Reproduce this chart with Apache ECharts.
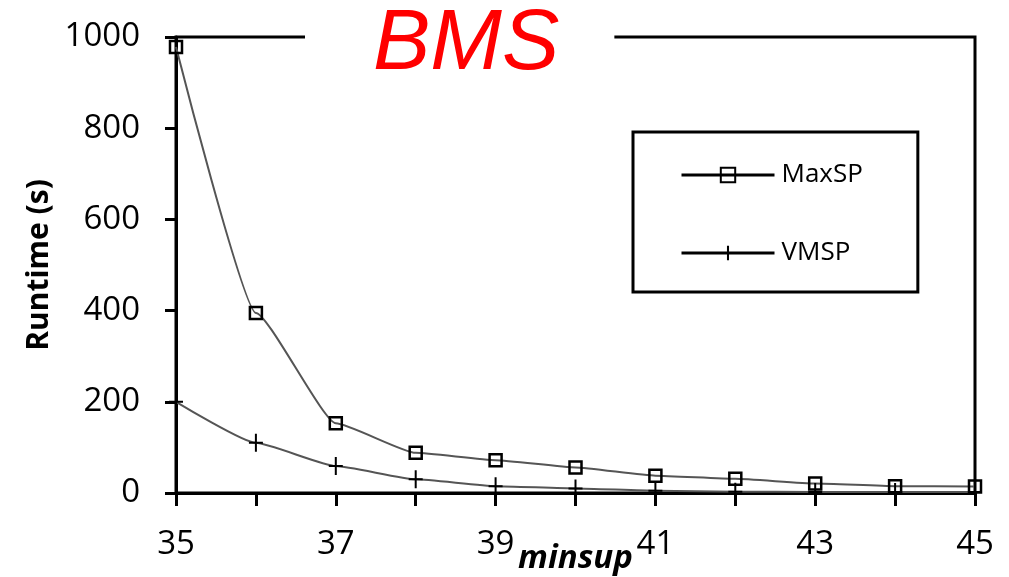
<!DOCTYPE html>
<html>
<head>
<meta charset="utf-8">
<script src="https://cdn.jsdelivr.net/npm/echarts@6/dist/echarts.min.js"></script>
<style>html,body{margin:0;padding:0;background:#fff;}#c{width:1009px;height:577px;}</style>
</head>
<body>
<div id="c"></div>
<script>
const minsup = [35, 36, 37, 38, 39, 40, 41, 42, 43, 44, 45];
const maxSP = [978, 395, 153, 88, 72, 56, 38, 31, 21, 15, 14];
const vmsp = [200, 110, 59, 30, 15, 10, 5, 3, 2, 2, 2];
const xTickLabels = [35, 37, 39, 41, 43, 45];
const yTicks = [0, 200, 400, 600, 800, 1000];

const plusPath = 'path://M6,0H8V8H14V10H8V18H6V10H0V8H6Z';
const font = 'Open Sans';

const chart = echarts.init(document.getElementById('c'));
chart.setOption({
  animation: false,
  backgroundColor: '#fff',
  title: {
    text: 'BMS',
    left: 305, top: 2,
    padding: [0, 55, 0, 68],
    backgroundColor: '#fff',
    textStyle: { color: '#ff0000', fontStyle: 'italic', fontWeight: 'normal', fontSize: 86, fontFamily: 'Liberation Sans', lineHeight: 86 },
    z: 10
  },
  grid: {
    left: 176, right: 34, top: 37, bottom: 84,
    outerBoundsMode: 'none',
    containLabel: false,
    show: true, borderColor: '#000', borderWidth: 3, backgroundColor: 'transparent'
  },
  legend: {
    orient: 'vertical',
    left: 633, top: 132,
    padding: [30, 55, 26, 47],
    itemGap: 52,
    itemWidth: 93, itemHeight: 18,
    borderColor: '#000', borderWidth: 3,
    lineStyle: { color: '#000', width: 3 },
    textStyle: { fontFamily: font, fontSize: 26, color: '#000', lineHeight: 18, padding: [0, 0, 0, 2] },
    data: ['MaxSP', 'VMSP']
  },
  xAxis: {
    type: 'value', min: 35, max: 45, interval: 1,
    name: 'minsup', nameLocation: 'middle', nameGap: 49,
    nameMoveOverlap: false,
    nameTextStyle: { fontFamily: font, fontSize: 33, fontStyle: 'italic', fontWeight: 'bold', color: '#000' },
    axisLine: { lineStyle: { color: '#000', width: 3 } },
    axisTick: { length: 13, lineStyle: { color: '#000', width: 3 } },
    axisLabel: {
      margin: 35, fontFamily: font, fontSize: 33, color: '#000',
      formatter: v => xTickLabels.indexOf(v) >= 0 ? String(v) : ''
    },
    splitLine: { show: false }
  },
  yAxis: {
    type: 'value', min: yTicks[0], max: yTicks[yTicks.length - 1], interval: 200,
    name: 'Runtime (s)', nameLocation: 'middle', nameGap: 122, nameRotate: 90,
    nameMoveOverlap: false,
    nameTextStyle: { fontFamily: font, fontSize: 30, fontWeight: 'bold', color: '#000' },
    axisLine: { show: true, lineStyle: { color: '#000', width: 3 } },
    axisTick: { show: true, length: 11, lineStyle: { color: '#000', width: 3 } },
    axisLabel: { margin: 36, fontFamily: font, fontSize: 33, color: '#000', formatter: v => String(v) },
    splitLine: { show: false }
  },
  series: [
    {
      name: 'MaxSP', type: 'line',
      data: minsup.map((x, i) => [x, maxSP[i]]),
      smooth: 0.15,
      smoothMonotone: 'x',
      symbol: 'rect', symbolSize: 12,
      lineStyle: { color: '#555', width: 2 },
      itemStyle: { color: 'rgba(255,255,255,0)', borderColor: '#000', borderWidth: 2.5 },
      z: 3
    },
    {
      name: 'VMSP', type: 'line',
      data: minsup.map((x, i) => [x, vmsp[i]]),
      smooth: 0.15,
      smoothMonotone: 'x',
      symbol: plusPath, symbolSize: [14, 18],
      lineStyle: { color: '#555', width: 2 },
      itemStyle: { color: '#000' },
      z: 3
    }
  ]
});
</script>
</body>
</html>
